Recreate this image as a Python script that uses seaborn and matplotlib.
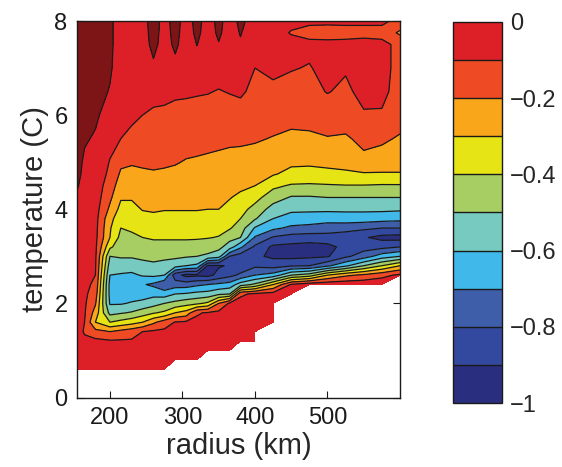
import numpy as np
import matplotlib
matplotlib.use("Agg")
import matplotlib.pyplot as plt
from matplotlib.colors import ListedColormap, BoundaryNorm
import matplotlib.cm as cm
import seaborn as sns

nan = np.nan

# grid: one temperature profile per radius column
radius_km = [155, 165, 180, 200, 215, 230, 245, 260, 275, 290, 305, 320, 335,
             350, 365, 380, 400, 425, 450, 475, 500, 525, 550, 575, 600]
temperature_c = [0.6, 0.8, 1.0, 1.2, 1.4, 1.6, 1.8, 2.0, 2.2, 2.4, 2.6, 2.8, 3.0,
                 3.2, 3.4, 3.6, 3.8, 4.0, 4.25, 4.5, 4.75, 5.0, 5.5, 6.0, 6.5,
                 7.0, 7.5, 7.75, 8.0]

r155 = [-0.04, -0.05, -0.06, -0.07, -0.08, -0.08, -0.08, -0.08, -0.07, -0.07, -0.06, -0.06, -0.05,
        -0.05, -0.04, -0.04, -0.03, -0.02, -0.01, 0.005, 0.02, 0.03, 0.05, 0.06, 0.07,
        0.07, 0.07, 0.07, 0.07]
r165 = [-0.04, -0.05, -0.07, -0.09, -0.105, -0.1, -0.09, -0.085, -0.08, -0.075, -0.07, -0.065, -0.06,
        -0.055, -0.05, -0.045, -0.04, -0.035, -0.03, -0.025, -0.02, -0.015, 0.01, 0.03, 0.05,
        0.06, 0.06, 0.06, 0.06]
r180 = [-0.04, -0.05, -0.07, -0.075, -0.17, -0.30, -0.24, -0.19, -0.15, -0.12, -0.10, -0.09, -0.085,
        -0.08, -0.075, -0.07, -0.065, -0.06, -0.05, -0.045, -0.04, -0.03, -0.01, 0.015, 0.03,
        0.04, 0.05, 0.05, 0.05]
r200 = [-0.04, -0.05, -0.07, -0.09, -0.2, -0.4, -0.53, -0.61, -0.63, -0.63, -0.6, -0.55, -0.5,
        -0.38, -0.3, -0.29, -0.27, -0.22, -0.18, -0.15, -0.12, -0.105, -0.07, -0.04, -0.005,
        0.01, 0.02, 0.02, 0.02]
r215 = [-0.04, -0.05, -0.07, -0.09, -0.17, -0.37, -0.51, -0.61, -0.65, -0.66, -0.61, -0.55, -0.49,
        -0.46, -0.43, -0.4, -0.36, -0.33, -0.29, -0.25, -0.215, -0.18, -0.1, -0.06, -0.05,
        -0.04, -0.05, -0.05, -0.05]
r230 = [-0.04, -0.05, -0.07, -0.09, -0.14, -0.34, -0.49, -0.59, -0.65, -0.68, -0.62, -0.55, -0.49,
        -0.46, -0.42, -0.385, -0.36, -0.33, -0.29, -0.26, -0.225, -0.19, -0.125, -0.08, -0.06,
        -0.05, -0.05, -0.05, -0.05]
r245 = [-0.04, -0.05, -0.06, -0.08, -0.1, -0.3, -0.45, -0.57, -0.65, -0.69, -0.59, -0.53, -0.48,
        -0.44, -0.4, -0.365, -0.33, -0.295, -0.27, -0.24, -0.21, -0.19, -0.15, -0.1, -0.07,
        -0.06, -0.05, -0.045, -0.045]
r260 = [-0.04, -0.05, -0.06, -0.07, -0.085, -0.22, -0.41, -0.54, -0.63, -0.72, -0.58, -0.52, -0.47,
        -0.43, -0.39, -0.355, -0.32, -0.29, -0.265, -0.235, -0.205, -0.19, -0.16, -0.115, -0.07,
        -0.02, 0.03, 0.04, 0.05]
r275 = [-0.04, -0.05, -0.06, -0.07, -0.08, -0.15, -0.38, -0.5, -0.65, -0.78, -0.6, -0.53, -0.48,
        -0.43, -0.39, -0.36, -0.33, -0.295, -0.27, -0.245, -0.21, -0.19, -0.16, -0.125, -0.065,
        -0.05, -0.045, -0.04, -0.04]
r290 = [nan, -0.05, -0.06, -0.065, -0.075, -0.095, -0.3, -0.47, -0.6, -0.75, -0.86, -0.56, -0.48,
        -0.43, -0.39, -0.36, -0.33, -0.295, -0.27, -0.245, -0.215, -0.195, -0.17, -0.135, -0.08,
        -0.03, 0.02, 0.03, 0.04]
r305 = [nan, -0.05, -0.055, -0.06, -0.07, -0.085, -0.26, -0.44, -0.59, -0.75, -0.93, -0.6, -0.49,
        -0.43, -0.39, -0.36, -0.33, -0.295, -0.275, -0.25, -0.225, -0.205, -0.17, -0.135, -0.085,
        -0.06, -0.05, -0.045, -0.045]
r320 = [nan, -0.05, -0.055, -0.06, -0.065, -0.08, -0.11, -0.42, -0.57, -0.72, -0.92, -0.62, -0.5,
        -0.44, -0.39, -0.36, -0.33, -0.295, -0.28, -0.26, -0.235, -0.21, -0.17, -0.14, -0.09,
        -0.04, 0.002, 0.02, 0.03]
r335 = [nan, nan, -0.05, -0.055, -0.06, -0.07, -0.09, -0.38, -0.56, -0.7, -0.93, -0.91, -0.52,
        -0.45, -0.395, -0.36, -0.33, -0.3, -0.28, -0.26, -0.24, -0.215, -0.175, -0.14, -0.095,
        -0.06, -0.045, -0.04, -0.04]
r350 = [nan, nan, -0.045, -0.05, -0.055, -0.06, -0.075, -0.2, -0.52, -0.68, -0.87, -0.91, -0.56,
        -0.47, -0.405, -0.37, -0.34, -0.3, -0.28, -0.265, -0.245, -0.22, -0.18, -0.145, -0.105,
        -0.06, -0.005, 0.015, 0.025]
r365 = [nan, nan, -0.045, -0.05, -0.05, -0.055, -0.065, -0.085, -0.5, -0.66, -0.83, -0.89, -0.8,
        -0.55, -0.465, -0.39, -0.355, -0.325, -0.295, -0.27, -0.25, -0.225, -0.185, -0.145, -0.095,
        -0.06, -0.045, -0.04, -0.04]
r380 = [nan, nan, nan, -0.045, -0.05, -0.05, -0.055, -0.06, -0.12, -0.55, -0.78, -0.87, -0.85,
        -0.68, -0.5, -0.45, -0.4, -0.37, -0.32, -0.28, -0.255, -0.23, -0.185, -0.14, -0.085,
        -0.04, -0.01, 0.005, 0.02]
r400 = [nan, nan, nan, -0.04, -0.045, -0.05, -0.05, -0.055, -0.08, -0.48, -0.7, -0.82, -0.88,
        -0.82, -0.71, -0.61, -0.49, -0.43, -0.37, -0.3, -0.265, -0.24, -0.19, -0.15, -0.125,
        -0.1, -0.06, -0.05, -0.04]
r425 = [nan, nan, nan, nan, nan, -0.04, -0.045, -0.05, -0.06, -0.3, -0.66, -0.84, -0.92,
        -0.92, -0.81, -0.68, -0.6, -0.545, -0.45, -0.38, -0.29, -0.26, -0.205, -0.16, -0.115,
        -0.085, -0.07, -0.07, -0.07]
r450 = [nan, nan, nan, nan, nan, nan, nan, nan, -0.03, -0.09, -0.5, -0.81, -0.93,
        -0.93, -0.84, -0.72, -0.64, -0.58, -0.51, -0.41, -0.33, -0.28, -0.22, -0.17, -0.13,
        -0.095, -0.075, -0.105, -0.08]
r475 = [nan, nan, nan, nan, nan, nan, nan, nan, nan, -0.04, -0.45, -0.8, -0.92,
        -0.94, -0.85, -0.73, -0.65, -0.58, -0.51, -0.415, -0.33, -0.285, -0.215, -0.17, -0.13,
        -0.105, -0.08, -0.125, -0.085]
r500 = [nan, nan, nan, nan, nan, nan, nan, nan, nan, -0.03, -0.3, -0.72, -0.91,
        -0.93, -0.84, -0.75, -0.66, -0.58, -0.5, -0.41, -0.32, -0.28, -0.205, -0.155, -0.095,
        -0.075, -0.08, -0.13, -0.085]
r525 = [nan, nan, nan, nan, nan, nan, nan, nan, nan, -0.03, -0.22, -0.62, -0.82,
        -0.87, -0.86, -0.76, -0.65, -0.58, -0.5, -0.405, -0.31, -0.28, -0.21, -0.16, -0.12,
        -0.09, -0.08, -0.125, -0.085]
r550 = [nan, nan, nan, nan, nan, nan, nan, nan, nan, -0.03, -0.18, -0.5, -0.75,
        -0.84, -0.89, -0.78, -0.65, -0.58, -0.5, -0.405, -0.31, -0.22, -0.18, -0.11, -0.07,
        -0.06, -0.07, -0.125, -0.085]
r575 = [nan, nan, nan, nan, nan, nan, nan, nan, nan, -0.03, -0.13, -0.4, -0.65,
        -0.83, -0.93, -0.8, -0.66, -0.58, -0.5, -0.41, -0.31, -0.24, -0.185, -0.11, -0.075,
        -0.07, -0.08, -0.125, -0.085]
r600 = [nan, nan, nan, nan, nan, nan, nan, nan, nan, nan, -0.08, -0.3, -0.6,
        -0.8, -0.94, -0.8, -0.67, -0.585, -0.5, -0.41, -0.305, -0.27, -0.21, -0.16, -0.14,
        -0.13, -0.12, -0.22, -0.12]

profiles = [r155, r165, r180, r200, r215, r230, r245, r260, r275, r290, r305, r320, r335,
            r350, r365, r380, r400, r425, r450, r475, r500, r525, r550, r575, r600]

levels = [-1.0, -0.9, -0.8, -0.7, -0.6, -0.5, -0.4, -0.3, -0.2, -0.1, 0.0, 0.2]
band_colors = ["#2a2e7e", "#33499f", "#3f5eaa", "#40b8ea", "#76cac0", "#a6ce63",
               "#e6e415", "#f9a61b", "#ee4b24", "#dd1f27", "#7d1517"]
cbar_ticks = [0, -0.2, -0.4, -0.6, -0.8, -1]
cbar_labels = ["0", "\u22120.2", "\u22120.4", "\u22120.6", "\u22120.8", "\u22121"]

sns.set_theme(style="ticks")
plt.rcParams["font.family"] = ["Liberation Sans", "DejaVu Sans"]
plt.rcParams["axes.linewidth"] = 1.0

W, H = 562, 467
fig = plt.figure(figsize=(W / 100, H / 100), dpi=100, facecolor="white")
ax = fig.add_axes([77.3 / W, 1 - 397.5 / H, (400 - 77.3) / W, (397.5 - 21) / H])

Z = np.ma.masked_invalid(np.array(profiles, dtype=float).T)
ax.contourf(radius_km, temperature_c, Z, levels=levels, colors=band_colors, corner_mask=True)
ax.contour(radius_km, temperature_c, Z, levels=levels[1:-1], colors="k",
           linewidths=0.9, linestyles="solid", corner_mask=True)

ax.set_xlim(155, 600)
ax.set_ylim(0, 8)
ax.set_xticks([200, 300, 400, 500])
ax.set_yticks([0, 2, 4, 6, 8])
ax.tick_params(direction="in", top=True, right=True, length=5, width=0.8,
               labelsize=17, pad=7, colors="k")
for s in ax.spines.values():
    s.set_color("k")
ax.set_xlabel("radius (km)", fontsize=21, labelpad=2)
ax.set_ylabel("temperature (C)", fontsize=21, labelpad=4)

# colorbar only for the -1..0 bands
cax = fig.add_axes([452.7 / W, 1 - 403 / H, (502 - 452.7) / W, (403 - 22) / H])
sm = cm.ScalarMappable(norm=BoundaryNorm(levels[:11], 10),
                       cmap=ListedColormap(band_colors[:10]))
cb = fig.colorbar(sm, cax=cax, ticks=cbar_ticks, drawedges=True)
cb.ax.set_yticklabels(cbar_labels)
cb.ax.minorticks_off()
cb.ax.tick_params(direction="in", length=0, labelsize=17, pad=6)
cb.outline.set_linewidth(1.0)
cb.outline.set_edgecolor("k")
cb.dividers.set_color("k")
cb.dividers.set_linewidth(1.0)

fig.savefig("out.png", dpi=100, facecolor="white")
